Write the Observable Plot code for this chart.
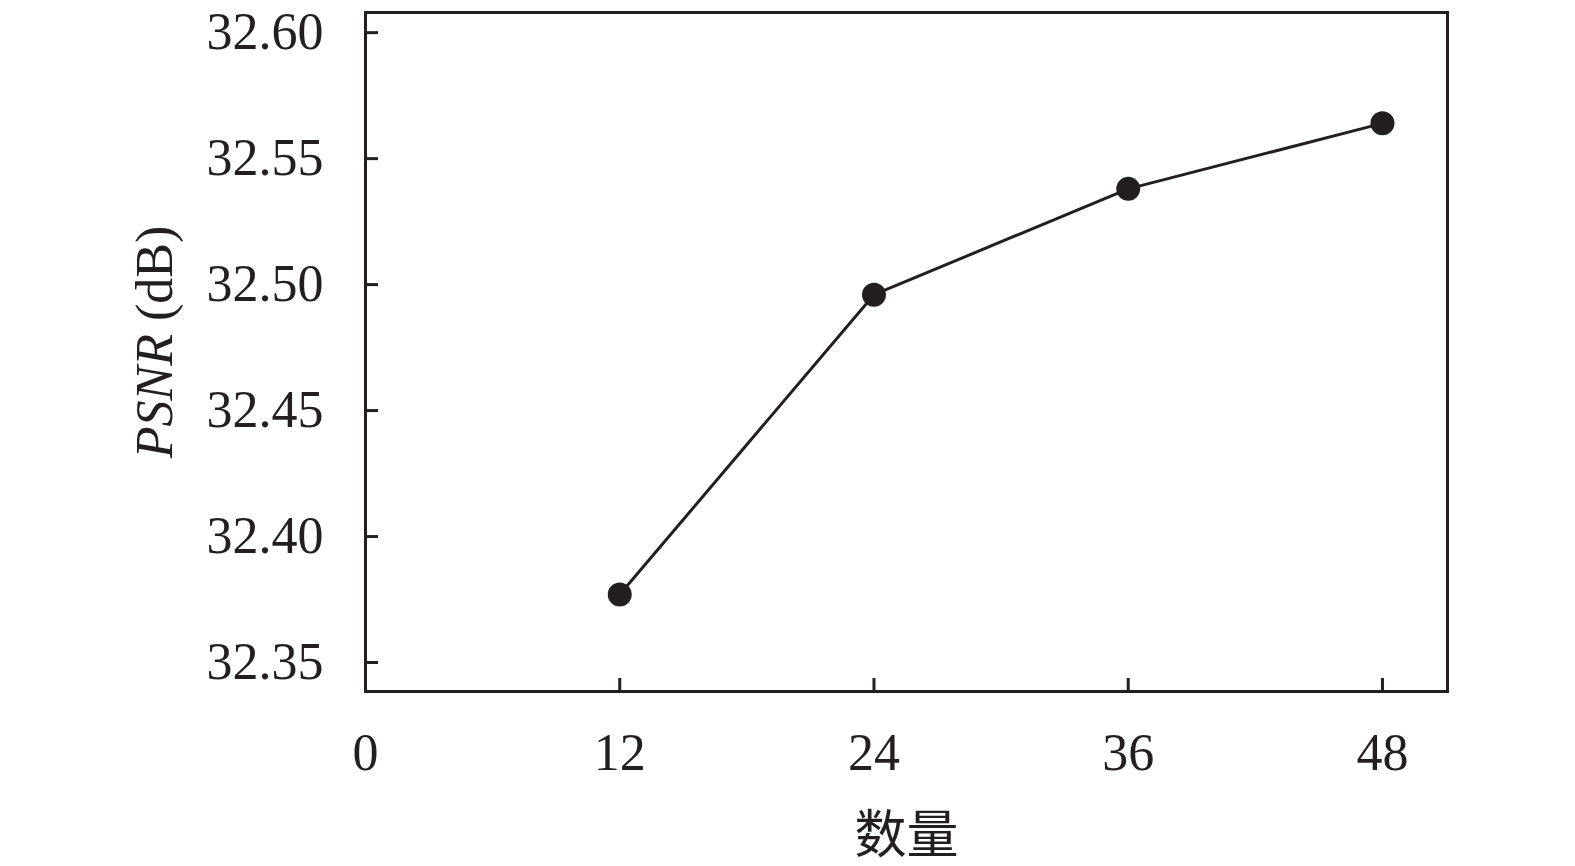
<!DOCTYPE html>
<html>
<head>
<meta charset="utf-8">
<script src="https://cdn.jsdelivr.net/npm/d3@7"></script>
<script src="https://cdn.jsdelivr.net/npm/@observablehq/plot@0.6"></script>
<style>
  body { margin: 0; background: #fff; }
</style>
</head>
<body>
<div id="chart"></div>
<script>
const counts = [12, 24, 36, 48];
const psnr = [32.377, 32.496, 32.538, 32.564];
const xTicks = [0, 12, 24, 36, 48];
const yTicks = [32.35, 32.40, 32.45, 32.50, 32.55, 32.60];

const data = counts.map((c, i) => ({ x: c, y: psnr[i] }));

const ink = "#231f20";
const W = 1575, H = 866;
const mL = 365, mR = 128, mT = 12, mB = 175;
const innerW = W - mL - mR;
const innerH = H - mT - mB;

let chart = Plot.plot({
  width: W,
  height: H,
  marginLeft: mL,
  marginRight: mR,
  marginTop: mT,
  marginBottom: mB,
  x: { domain: [0, 51.07], axis: null },
  y: { domain: [32.3385, 32.608], axis: null },
  style: {
    fontFamily: "'Liberation Serif', 'Times New Roman', serif",
    fontSize: "52px",
    color: ink,
    background: "#fff"
  },
  marks: [
    Plot.frame({ stroke: ink, strokeWidth: 3 }),
    // ticks pointing inward
    Plot.tickY(yTicks, { y: d => d, stroke: ink, strokeWidth: 3, insetRight: innerW - 13 }),
    Plot.tickX(xTicks.slice(1), { x: d => d, stroke: ink, strokeWidth: 3, insetTop: innerH - 13 }),
    Plot.axisY(yTicks, { tickSize: 0, tickPadding: 42, tickFormat: d3.format(".2f"), label: null, fill: ink }),
    Plot.axisX(xTicks, { tickSize: 0, tickPadding: 42, label: null, fill: ink }),
    Plot.line(data, { x: "x", y: "y", stroke: ink, strokeWidth: 3 }),
    Plot.dot(data, { x: "x", y: "y", r: 12, fill: ink, stroke: "none" }),
    Plot.text(["PSNR (dB)"], {
      frameAnchor: "left",
      dx: -210,
      dy: -10,
      rotate: -90,
      text: d => d,
      fill: ink,
      fontSize: 52,
      textAnchor: "middle",
      lineAnchor: "middle"
    }),
    Plot.text(["数量"], {
      frameAnchor: "bottom",
      dy: 145,
      text: d => d,
      fill: ink,
      fontSize: 52,
      textAnchor: "middle",
      lineAnchor: "middle",
      fontFamily: "'Liberation Serif', 'Noto Sans CJK SC', serif"
    })
  ]
});

d3.select("#chart").append(() => chart);

// italic PSNR in the y label
d3.select("#chart svg").selectAll("text").each(function () {
  if (this.textContent === "PSNR (dB)") {
    const t = d3.select(this);
    t.text(null);
    t.append("tspan").attr("font-style", "italic").text("PSNR");
    t.append("tspan").text(" (dB)");
  }
});
</script>
</body>
</html>
